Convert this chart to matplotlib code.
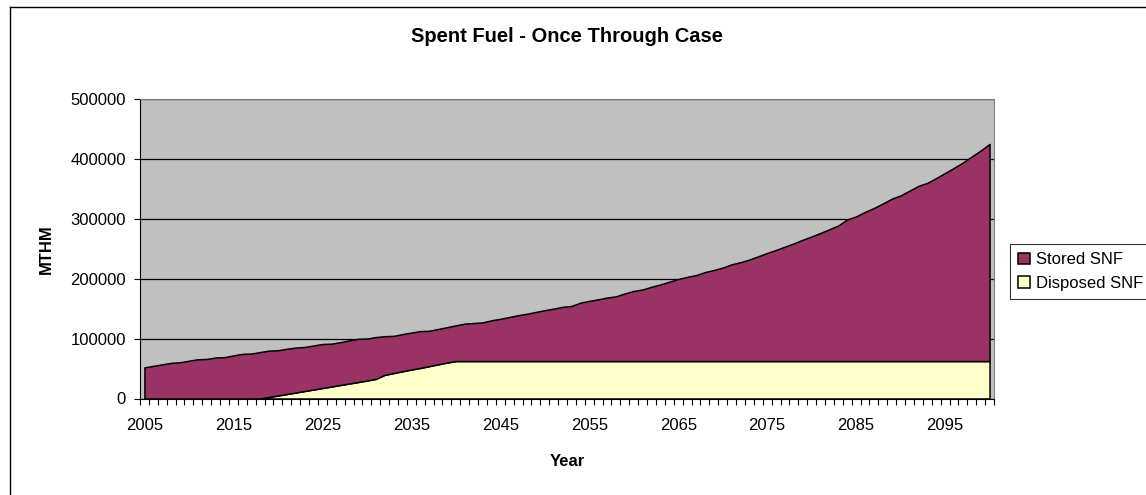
import numpy as np
import matplotlib
matplotlib.use("Agg")
import matplotlib.pyplot as plt
from matplotlib.lines import Line2D

plt.rcParams['font.family'] = ['Liberation Sans', 'DejaVu Sans']

years = list(range(2005, 2101))

# total spent fuel (top of the stack), MTHM
total_snf = [52000, 54500, 57000, 59500, 60500, 63000, 65500, 66000, 68500, 69000,
             72000, 74500, 75000, 77500, 80000, 80500, 83000, 85000, 86000, 88500,
             91000, 91500, 94000, 97000, 99500, 100000, 102500, 104000, 104500, 107500,
             110000, 112500, 113000, 116000, 119000, 122000, 125000, 126000, 127000, 130500,
             133000, 136000, 139000, 141500, 144500, 147500, 150000, 153000, 154500, 160000,
             163000, 165500, 168500, 170500, 175500, 179500, 182000, 186500, 190500, 195000,
             199500, 203000, 206000, 211000, 214500, 218500, 224000, 227500, 232000, 237500,
             243000, 248000, 253500, 259000, 265000, 270500, 276500, 282500, 289000, 299000,
             304000, 311500, 318000, 325500, 333500, 339000, 347000, 355000, 360000, 368000,
             376500, 385000, 394000, 404000, 414000, 425000]

disposed_snf = [0] * 14 + [2500, 5000, 7500, 10000, 12500, 15000, 17500, 20000, 22500,
                           25000, 27500, 30000, 32700, 39500, 42500, 45500, 48500, 51000,
                           54000, 57000, 60000, 62500] + [62500] * 60

stored_snf = np.array(total_snf) - np.array(disposed_snf)

fig = plt.figure(figsize=(11.46, 4.95), dpi=100)
ax = fig.add_axes([140/1146, 1 - 398.5/495, 854/1146, 299.5/495])
ax.set_facecolor('#C0C0C0')

ax.stackplot(years, disposed_snf, stored_snf,
             colors=['#FFFFCC', '#993366'],
             edgecolor='black', linewidth=1.1,
             labels=['Disposed SNF', 'Stored SNF'])

ax.set_xlim(2004.5, 2100.5)
ax.set_ylim(0, 500000)
ax.set_yticks(range(0, 500001, 100000))
ax.set_yticklabels([str(v) for v in range(0, 500001, 100000)])
ax.yaxis.grid(True, color='black', linewidth=0.9)
ax.set_axisbelow(True)

ax.set_xticks(range(2005, 2100, 10))
ax.set_xticks(np.arange(2004.5, 2101, 1), minor=True)
ax.tick_params(axis='x', which='major', length=0, pad=14, labelsize=12)
ax.tick_params(axis='x', which='minor', length=4, width=0.8, direction='out')
ax.tick_params(axis='y', which='major', length=4, width=0.8, pad=6, labelsize=12)

for s in ['top', 'right']:
    ax.spines[s].set_color('#808080')
for s in ['left', 'bottom']:
    ax.spines[s].set_color('black')

ax.set_title('Spent Fuel - Once Through Case', fontsize=14.5, fontweight='bold', pad=41)
ax.set_xlabel('Year', fontsize=12, fontweight='bold', labelpad=15)
ax.set_ylabel('MTHM', fontsize=12, fontweight='bold', labelpad=12)

handles, labels = ax.get_legend_handles_labels()
leg = fig.legend(handles[::-1], labels[::-1], loc='upper left',
                 bbox_to_anchor=(1010/1146, 1 - 244/495), fontsize=12,
                 frameon=True, fancybox=False, edgecolor='black',
                 handlelength=0.7, handleheight=0.7, handletextpad=0.35,
                 borderpad=0.5, labelspacing=0.5, borderaxespad=0)
leg.get_frame().set_linewidth(0.8)

# chart outer frame (right and bottom fall outside the picture)
fig.add_artist(Line2D([10/1146, 10/1146], [0, 1 - 6.5/495], color='black', linewidth=1))
fig.add_artist(Line2D([10/1146, 1], [1 - 6.5/495, 1 - 6.5/495], color='black', linewidth=1))

fig.savefig('out.png', dpi=100)
